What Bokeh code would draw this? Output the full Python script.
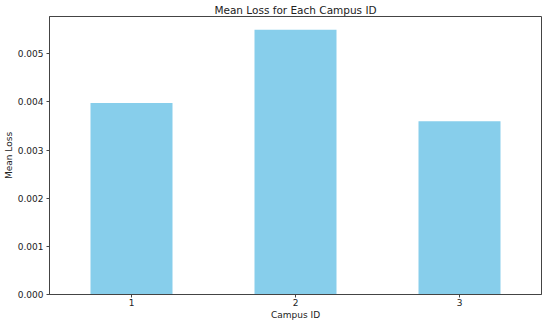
from bokeh.plotting import figure
from bokeh.models import FixedTicker, Range1d, ColumnDataSource
from bokeh.embed import file_html
from bokeh.resources import INLINE

campus_ids = ["1", "2", "3"]
mean_loss = [0.00398, 0.0055, 0.0036]
y_ticks = [0.0, 0.001, 0.002, 0.003, 0.004, 0.005]
y_tick_labels = ["0.000", "0.001", "0.002", "0.003", "0.004", "0.005"]
x_title = "Campus ID"
y_title = "Mean Loss"
chart_title = "Mean Loss for Each Campus ID"

src = ColumnDataSource(dict(x=campus_ids, y=mean_loss))
y_top = max(mean_loss) * 1.05

p = figure(x_range=campus_ids, y_range=Range1d(0, y_top),
           width=542, height=322, output_backend="svg", toolbar_location=None,
           title=chart_title,
           min_border_left=49, min_border_right=1, min_border_top=4, min_border_bottom=20)

p.vbar(x="x", top="y", width=0.5, source=src, color="#87CEEB", line_color=None)

p.title.align = "center"
p.title.text_font = "DejaVu Sans"
p.title.text_font_size = "10.5px"
p.title.text_font_style = "normal"
p.title.text_color = "#222222"
p.title.standoff = 2

p.xgrid.visible = False
p.ygrid.visible = False
p.outline_line_color = "#444444"
p.outline_line_width = 1
p.x_range.range_padding = 0

for ax in (p.xaxis[0], p.yaxis[0]):
    ax.axis_line_color = "#444444"
    ax.major_tick_line_color = "#444444"
    ax.major_tick_out = 3
    ax.major_tick_in = 0
    ax.minor_tick_line_color = None
    ax.major_label_text_font = "DejaVu Sans"
    ax.major_label_text_font_size = "9px"
    ax.major_label_text_color = "#222222"
    ax.axis_label_text_font = "DejaVu Sans"
    ax.axis_label_text_font_size = "9px"
    ax.axis_label_text_font_style = "normal"
    ax.axis_label_text_color = "#222222"

p.yaxis[0].ticker = FixedTicker(ticks=y_ticks)
p.yaxis[0].major_label_overrides = {t: l for t, l in zip(y_ticks, y_tick_labels)}
p.yaxis[0].major_label_standoff = 3
p.yaxis[0].axis_label = y_title
p.yaxis[0].axis_label_standoff = 1
p.xaxis[0].major_label_standoff = 1
p.xaxis[0].axis_label = x_title
p.xaxis[0].axis_label_standoff = 1

open("out.html", "w").write(file_html(p, INLINE))
